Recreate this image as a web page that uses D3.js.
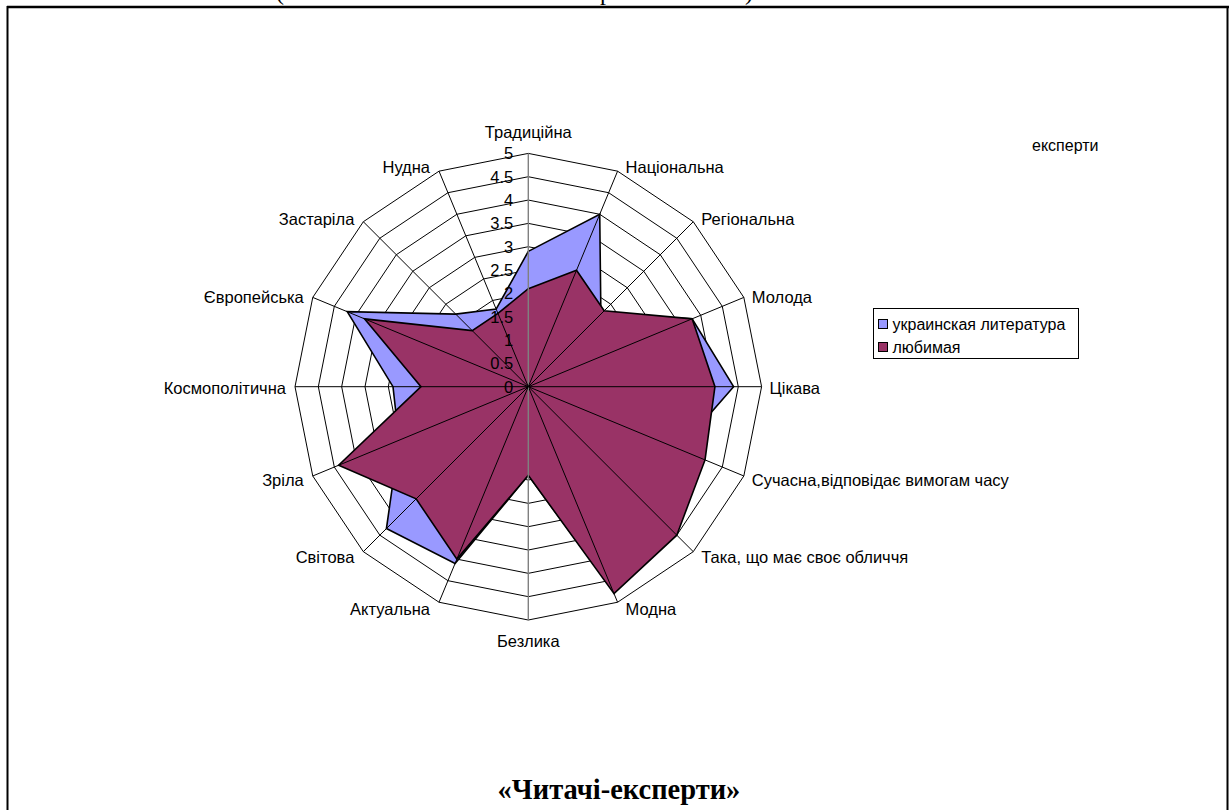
<!DOCTYPE html>
<html>
<head>
<meta charset="utf-8">
<script src="https://cdn.jsdelivr.net/npm/d3@7"></script>
<style>
  html, body { margin: 0; padding: 0; background: #fff; }
  svg { display: block; }
</style>
</head>
<body>
<svg id="chart" width="1229" height="810"></svg>
<script>
// Axes of the radar, clockwise from the top
const categories = [
  "Традиційна", "Національна", "Регіональна", "Молода", "Цікава",
  "Сучасна,відповідає вимогам часу", "Така, що має своє обличчя", "Модна",
  "Безлика", "Актуальна", "Світова", "Зріла", "Космополітична",
  "Європейська", "Застаріла", "Нудна"
];
const seriesNames = ["украинская литература", "любимая"];
const ukrLit = [2.9, 4.0, 2.2, 3.8, 4.4, 3.5, 4.4, 4.7, 1.9, 4.1, 4.3, 3.0, 2.9, 4.2, 2.2, 1.8];
const favourite = [2.1, 2.7, 2.3, 3.8, 4.0, 4.1, 4.5, 4.8, 1.9, 4.0, 3.4, 4.4, 2.3, 3.8, 1.7, 1.7];
const tickValues = [0, 0.5, 1, 1.5, 2, 2.5, 3, 3.5, 4, 4.5, 5];
const seriesColors = ["#9999FF", "#993366"];
const titleText = "«Читачі-експерти»";
const cornerNote = "експерти";

const svg = d3.select("#chart");
const W = 1229, H = 810;
const cx = 528.3, cy = 386.7;

const r = d3.scaleLinear().domain([0, 5]).range([0, 233.3]);
const angle = d3.scaleLinear().domain([0, categories.length]).range([0, 2 * Math.PI]);
const pt = (i, v) => [cx + Math.sin(angle(i)) * r(v), cy - Math.cos(angle(i)) * r(v)];

// page frame
svg.append("line").attr("x1", 7).attr("x2", 1229).attr("y1", 7).attr("y2", 7)
  .attr("stroke", "#000").attr("stroke-width", 2.5);
svg.append("line").attr("x1", 7.5).attr("x2", 7.5).attr("y1", 6).attr("y2", H)
  .attr("stroke", "#000").attr("stroke-width", 2);
svg.append("line").attr("x1", 1227.5).attr("x2", 1227.5).attr("y1", 6).attr("y2", H)
  .attr("stroke", "#000").attr("stroke-width", 2);

// bottoms of the heading line above the frame
const headFont = "'Liberation Serif', 'Times New Roman', serif";
[["(", 276], ["р", 600], [")", 745]].forEach(([t, x]) => {
  svg.append("text").attr("x", x).attr("y", 0).text(t)
    .attr("font-family", headFont).attr("font-size", 24).attr("fill", "#000");
});

const g = svg.append("g");
const idx = d3.range(categories.length);

// rings
g.selectAll("path.ring").data(tickValues.filter(d => d > 0)).join("path")
  .attr("class", "ring")
  .attr("d", v => d3.line()(idx.map(i => pt(i, v))) + "Z")
  .attr("fill", "none").attr("stroke", "#000").attr("stroke-width", 1);

// series areas
const seriesData = [ukrLit, favourite];
g.selectAll("path.series").data(seriesData).join("path")
  .attr("class", "series")
  .attr("d", vals => d3.line()(vals.map((v, i) => pt(i, v))) + "Z")
  .attr("fill", (d, k) => seriesColors[k])
  .attr("stroke", "#000").attr("stroke-width", 1.6)
  .attr("stroke-linejoin", "miter");

// spokes
g.selectAll("line.spoke").data(idx).join("line")
  .attr("class", "spoke")
  .attr("x1", cx).attr("y1", cy)
  .attr("x2", i => pt(i, 5)[0]).attr("y2", i => pt(i, 5)[1])
  .attr("stroke", i => (i === 0 || i === 8) ? "#808080" : "#000")
  .attr("stroke-width", i => (i === 0 || i === 8) ? 1.4 : 1);

// value labels along the top axis
const font = "'Liberation Sans', Arial, sans-serif";
const fs = 16.5;
g.selectAll("text.tick").data(tickValues).join("text")
  .attr("class", "tick")
  .attr("x", cx - 15).attr("y", v => cy - r(v))
  .attr("dy", "0.36em").attr("text-anchor", "end")
  .attr("font-family", font).attr("font-size", fs).attr("fill", "#000")
  .text(v => String(v));

// category labels
g.selectAll("text.cat").data(categories).join("text")
  .attr("class", "cat")
  .each(function (name, i) {
    const a = angle(i);
    const s = Math.sin(a), c = Math.cos(a);
    const [vx, vy] = pt(i, 5);
    const t = d3.select(this);
    if (Math.abs(s) < 0.01) {
      t.attr("x", vx).attr("y", vy - c * 21.5).attr("text-anchor", "middle");
    } else {
      t.attr("x", vx + (s > 0 ? 8 : -9))
        .attr("y", vy - c * 6 + 1.5)
        .attr("text-anchor", s > 0 ? "start" : "end");
    }
  })
  .attr("dy", "0.36em")
  .attr("font-family", font).attr("font-size", fs).attr("fill", "#000")
  .text(d => d);

// legend
const lg = svg.append("g").attr("transform", "translate(873.5,308.5)");
lg.append("rect").attr("width", 205).attr("height", 50)
  .attr("fill", "#fff").attr("stroke", "#000").attr("stroke-width", 1);
seriesNames.forEach((name, k) => {
  const yy = 15.5 + k * 23;
  lg.append("rect").attr("x", 5).attr("y", yy - 4.5).attr("width", 9).attr("height", 9)
    .attr("fill", seriesColors[k]).attr("stroke", "#000").attr("stroke-width", 1);
  lg.append("text").attr("x", 19).attr("y", yy).attr("dy", "0.36em")
    .attr("font-family", font).attr("font-size", 16).text(name);
});

// note in the upper right
svg.append("text").attr("x", 1032).attr("y", 145).attr("dy", "0.36em")
  .attr("font-family", font).attr("font-size", 16).text(cornerNote);

// caption
svg.append("text").attr("x", 619).attr("y", 799).attr("text-anchor", "middle")
  .attr("font-family", headFont).attr("font-weight", "bold").attr("font-size", 28.5)
  .text(titleText);
</script>
</body>
</html>
